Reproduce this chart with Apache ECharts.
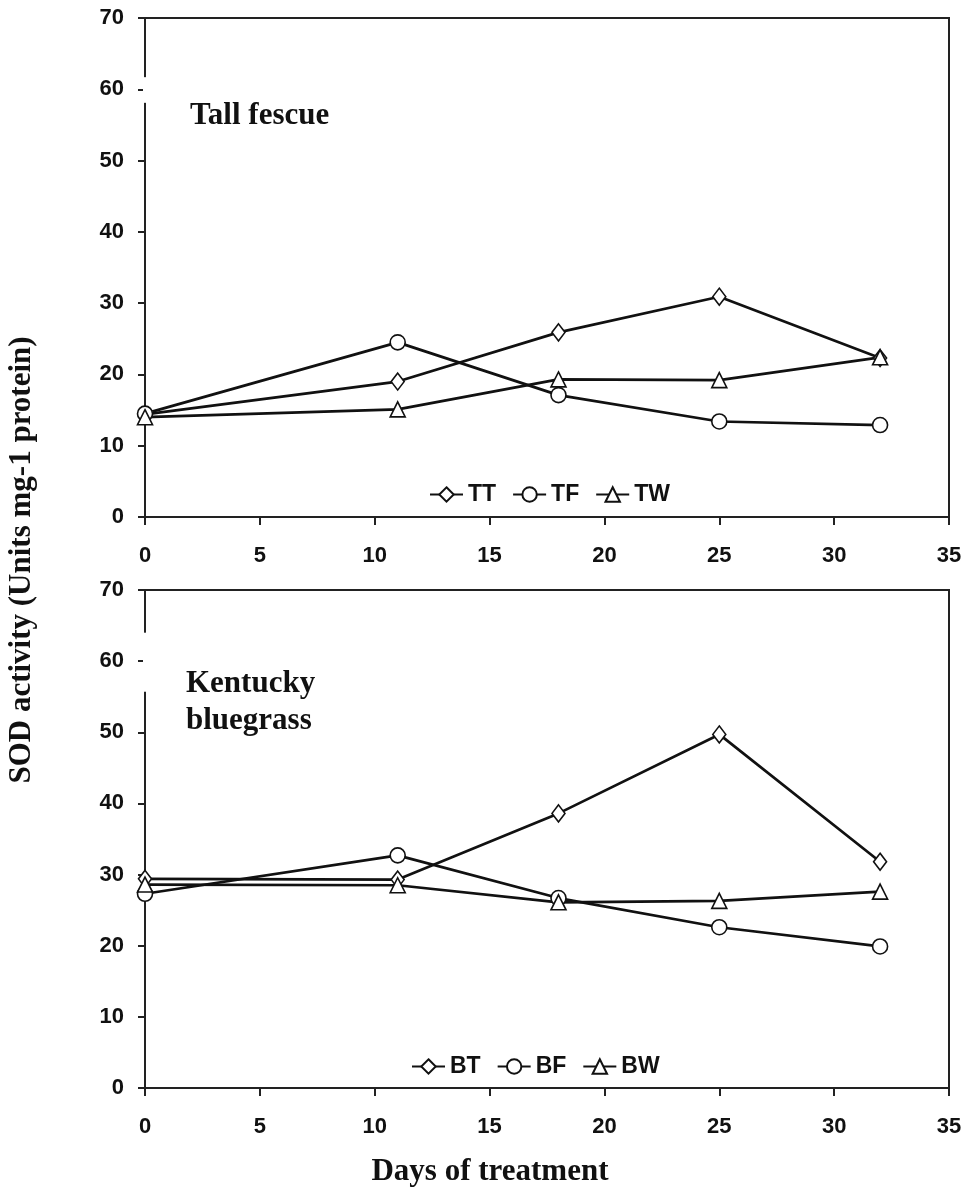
<!DOCTYPE html>
<html>
<head>
<meta charset="utf-8">
<script src="https://cdn.jsdelivr.net/npm/echarts@6/dist/echarts.min.js"></script>
<style>
html,body{margin:0;padding:0;background:#fff;}
#main{width:967px;height:1197px;}
</style>
</head>
<body>
<div id="main"></div>
<script>
// ---- data ----
const days = [0, 11, 18, 25, 32];
const xTicks = [0, 5, 10, 15, 20, 25, 30, 35];
const yTicks = [0, 10, 20, 30, 40, 50, 60, 70];
// Tall fescue
const TT = [14.4, 19.0, 25.9, 30.9, 22.3];
const TF = [14.5, 24.5, 17.1, 13.4, 12.9];
const TW = [14.0, 15.1, 19.3, 19.2, 22.4];
// Kentucky bluegrass
const BT = [29.4, 29.3, 38.6, 49.7, 31.8];
const BF = [27.3, 32.7, 26.7, 22.6, 19.9];
const BW = [28.6, 28.5, 26.1, 26.3, 27.6];

const panelTitles = ['Tall fescue', 'Kentucky', 'bluegrass'];
const yTitle = 'SOD activity (Units mg-1 protein)';
const xTitle = 'Days of treatment';

const ink = '#111';
const tickFont = {fontFamily: 'Liberation Sans, Arial, sans-serif', fontWeight: 'bold', fontSize: 22, color: ink};
const serifBold = 'bold 31px "Liberation Serif", "Times New Roman", serif';

function pairs(vals) { return days.map((d, i) => [d, vals[i]]); }

function xAxisCfg(gi) {
  return {
    type: 'value', gridIndex: gi, min: xTicks[0], max: xTicks[xTicks.length - 1], interval: 5,
    axisLine: {show: true, onZero: false, lineStyle: {color: '#222', width: 2}},
    axisTick: {show: true, inside: false, length: 8, lineStyle: {color: '#222', width: 2}},
    axisLabel: Object.assign({margin: 28}, tickFont),
    splitLine: {show: false}
  };
}
function yAxisCfg(gi) {
  return {
    type: 'value', gridIndex: gi, min: yTicks[0], max: yTicks[yTicks.length - 1], interval: 10,
    axisLine: {show: true, lineStyle: {color: '#222', width: 2}},
    axisTick: {show: true, inside: false, length: 7, lineStyle: {color: '#222', width: 2}},
    axisLabel: Object.assign({margin: 21}, tickFont),
    splitLine: {show: false}
  };
}
const symbols = {T: ['diamond', [13, 17]], F: ['circle', 15], W: ['triangle', [15, 15]]};
function ser(name, vals, gi, key) {
  return {
    name: name, type: 'line', xAxisIndex: gi, yAxisIndex: gi, data: pairs(vals),
    symbol: symbols[key][0], symbolSize: symbols[key][1],
    showAllSymbol: true,
    lineStyle: {color: ink, width: 2.7},
    itemStyle: {color: '#fff', borderColor: ink, borderWidth: 1.6},
    emphasis: {disabled: true},
    animation: false, z: 3
  };
}

const legendText = {fontFamily: 'Liberation Sans, Arial, sans-serif', fontWeight: 'bold', fontSize: 23, color: ink};

const option = {
  backgroundColor: '#fff',
  animation: false,
  grid: [
    {left: 145, top: 18, width: 804, height: 499, show: true, borderColor: '#222', borderWidth: 2, backgroundColor: 'transparent'},
    {left: 145, top: 590, width: 804, height: 498, show: true, borderColor: '#222', borderWidth: 2, backgroundColor: 'transparent'}
  ],
  xAxis: [xAxisCfg(0), xAxisCfg(1)],
  yAxis: [yAxisCfg(0), yAxisCfg(1)],
  legend: [
    {data: ['TT', 'TF', 'TW'], left: 424, top: 478, itemWidth: 33, itemHeight: 18, itemGap: 16, textStyle: legendText, selectedMode: false},
    {data: ['BT', 'BF', 'BW'], left: 406, top: 1050, itemWidth: 33, itemHeight: 18, itemGap: 16, textStyle: legendText, selectedMode: false}
  ],
  series: [
    ser('TT', TT, 0, 'T'), ser('TF', TF, 0, 'F'), ser('TW', TW, 0, 'W'),
    ser('BT', BT, 1, 'T'), ser('BF', BF, 1, 'F'), ser('BW', BW, 1, 'W')
  ]
};

const chart = echarts.init(document.getElementById('main'), null, {renderer: 'canvas'});
chart.setOption(option);

function breakRect(gi, vTop, vBot) {
  const p1 = chart.convertToPixel({xAxisIndex: gi, yAxisIndex: gi}, [0, vTop]);
  const p2 = chart.convertToPixel({xAxisIndex: gi, yAxisIndex: gi}, [0, vBot]);
  return {type: 'rect', z: 100, silent: true,
    shape: {x: p1[0] - 2, y: p1[1], width: 4.5, height: p2[1] - p1[1]},
    style: {fill: '#fff'}};
}

chart.setOption({
  graphic: [
    breakRect(0, 61.7, 58.1),
    breakRect(1, 64.0, 55.7),
    {type: 'text', left: 190, top: 100, z: 50, style: {text: panelTitles[0], font: serifBold, fill: ink}},
    {type: 'text', left: 186, top: 668, z: 50, style: {text: panelTitles[1], font: serifBold, fill: ink}},
    {type: 'text', left: 186, top: 705, z: 50, style: {text: panelTitles[2], font: serifBold, fill: ink}},
    {type: 'text', x: 22, y: 560, rotation: Math.PI / 2, z: 50,
      style: {text: yTitle, font: serifBold, fill: ink, align: 'center', verticalAlign: 'middle'}},
    {type: 'text', x: 490, y: 1172, z: 50,
      style: {text: xTitle, font: serifBold, fill: ink, align: 'center', verticalAlign: 'middle'}}
  ]
});
</script>
</body>
</html>
